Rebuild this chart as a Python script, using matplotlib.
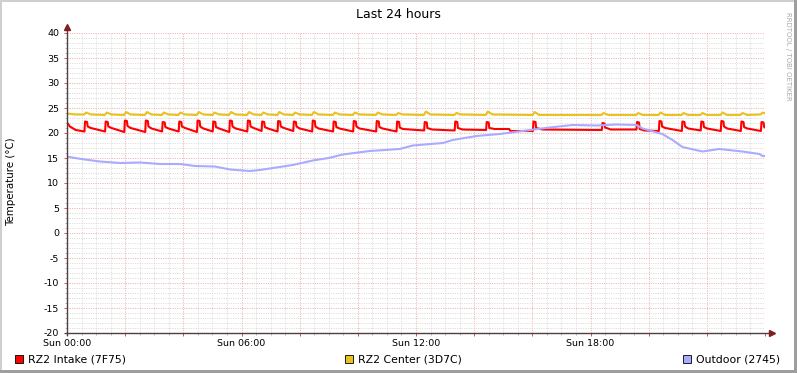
# RRDtool-style "Last 24 hours" temperature graph
import matplotlib
matplotlib.use('Agg')
import matplotlib.pyplot as plt
from matplotlib.patches import Rectangle

# ---- data (hours since Sun 00:00, deg C) ----
red_hours = [
    0.00, 0.10, 0.30, 0.60,
    0.62, 0.69, 0.71, 0.82, 1.31,
    1.33, 1.40, 1.42, 1.53, 1.97,
    1.99, 2.06, 2.08, 2.19, 2.69,
    2.71, 2.78, 2.80, 2.91, 3.27,
    3.29, 3.36, 3.38, 3.49, 3.84,
    3.86, 3.93, 3.95, 4.06, 4.47,
    4.49, 4.56, 4.58, 4.69, 5.01,
    5.03, 5.10, 5.12, 5.23, 5.58,
    5.60, 5.67, 5.69, 5.80, 6.20,
    6.22, 6.29, 6.31, 6.42, 6.69,
    6.71, 6.78, 6.80, 6.91, 7.24,
    7.26, 7.33, 7.35, 7.46, 7.78,
    7.80, 7.87, 7.89, 8.00, 8.43,
    8.45, 8.52, 8.54, 8.65, 9.15,
    9.17, 9.24, 9.26, 9.37, 9.84,
    9.86, 9.93, 9.95, 10.06, 10.63,
    10.65, 10.72, 10.74, 10.85, 11.33,
    11.35, 11.42, 11.44, 11.55, 12.28,
    12.30, 12.37, 12.39, 12.55, 13.33,
    13.35, 13.42, 13.44, 13.60, 14.41,
    14.43, 14.50, 14.52, 14.70, 15.20, 15.25, 16.02,
    16.04, 16.11, 16.13, 16.35, 18.39,
    18.41, 18.48, 18.50, 18.70, 19.58,
    19.60, 19.67, 19.69, 19.85, 20.35,
    20.37, 20.44, 20.46, 20.57, 21.14,
    21.16, 21.23, 21.25, 21.36, 21.79,
    21.81, 21.88, 21.90, 22.01, 22.48,
    22.50, 22.57, 22.59, 22.70, 23.17,
    23.19, 23.26, 23.28, 23.39, 23.86,
    23.88, 23.95, 23.97, 24.00]
red_temp = [
    22.1, 21.3, 20.6, 20.3,
    22.3, 22.2, 21.3, 21.0, 20.3,
    22.3, 22.2, 21.3, 21.0, 20.2,
    22.5, 22.4, 21.4, 21.0, 20.2,
    22.5, 22.4, 21.3, 20.9, 20.3,
    22.2, 22.1, 21.2, 20.9, 20.3,
    22.3, 22.2, 21.3, 21.0, 20.2,
    22.5, 22.4, 21.3, 20.9, 20.3,
    22.3, 22.2, 21.2, 20.9, 20.2,
    22.5, 22.4, 21.3, 20.9, 20.3,
    22.5, 22.4, 21.3, 21.0, 20.4,
    22.3, 22.2, 21.2, 20.9, 20.3,
    22.4, 22.3, 21.3, 21.0, 20.4,
    22.3, 22.2, 21.3, 20.9, 20.3,
    22.5, 22.4, 21.3, 20.9, 20.3,
    22.3, 22.2, 21.2, 20.9, 20.3,
    22.4, 22.3, 21.3, 20.9, 20.3,
    22.4, 22.3, 21.2, 20.9, 20.3,
    22.3, 22.2, 21.1, 20.8, 20.5,
    22.2, 22.1, 21.0, 20.7, 20.5,
    22.3, 22.2, 21.0, 20.7, 20.6,
    22.2, 22.1, 21.0, 20.8, 20.8, 20.4, 20.4,
    22.3, 22.2, 21.0, 20.7, 20.6,
    22.0, 21.9, 21.1, 20.7, 20.7,
    22.2, 22.1, 20.8, 20.5, 20.4,
    22.4, 22.3, 21.3, 21.0, 20.4,
    22.3, 22.2, 21.3, 20.9, 20.5,
    22.3, 22.2, 21.2, 20.9, 20.4,
    22.4, 22.3, 21.3, 20.9, 20.4,
    22.3, 22.2, 21.2, 20.9, 20.4,
    22.2, 22.1, 21.2, 21.1]

yellow_hours = [
    0.00, 0.30, 0.59, 0.66, 0.82, 1.30, 1.37, 1.53, 1.96, 2.03, 2.19,
    2.68, 2.75, 2.91, 3.26, 3.33, 3.49, 3.83, 3.90, 4.06, 4.46, 4.53, 4.69,
    5.00, 5.07, 5.23, 5.57, 5.64, 5.80, 6.19, 6.26, 6.42, 6.68, 6.75, 6.91,
    7.23, 7.30, 7.46, 7.77, 7.84, 8.00, 8.42, 8.49, 8.65, 9.14, 9.21, 9.37,
    9.83, 9.90, 10.06, 10.62, 10.69, 10.85, 11.32, 11.39, 11.55,
    12.27, 12.34, 12.50, 13.32, 13.39, 13.55, 14.40, 14.47, 14.63,
    16.01, 16.08, 16.24, 18.38, 18.45, 18.61, 19.57, 19.64, 19.80,
    20.34, 20.41, 20.57, 21.13, 21.20, 21.36, 21.78, 21.85, 22.01,
    22.47, 22.54, 22.70, 23.16, 23.23, 23.39, 23.85, 23.92, 24.00]
yellow_temp = [
    23.9, 23.7, 23.7, 24.1, 23.7, 23.6, 24.1, 23.7, 23.6, 24.2, 23.7,
    23.6, 24.2, 23.7, 23.6, 24.1, 23.7, 23.6, 24.1, 23.7, 23.6, 24.2, 23.7,
    23.6, 24.1, 23.7, 23.6, 24.2, 23.7, 23.6, 24.2, 23.7, 23.6, 24.1, 23.7,
    23.6, 24.2, 23.7, 23.6, 24.1, 23.7, 23.6, 24.2, 23.7, 23.6, 24.1, 23.7,
    23.6, 24.1, 23.7, 23.6, 24.1, 23.7, 23.6, 24.0, 23.7,
    23.6, 24.3, 23.7, 23.6, 24.0, 23.7, 23.6, 24.3, 23.7,
    23.6, 24.2, 23.6, 23.6, 24.0, 23.6, 23.6, 24.0, 23.6,
    23.6, 24.1, 23.6, 23.6, 24.0, 23.6, 23.6, 24.0, 23.6,
    23.6, 24.1, 23.6, 23.6, 24.0, 23.6, 23.7, 24.1, 23.9]

blue_hours = [
    0.00, 0.27, 0.62, 1.13, 1.82, 2.51, 3.19, 3.88, 4.40, 5.08, 5.60,
    6.29, 6.63, 7.20, 7.76, 8.45, 9.00, 9.48, 10.41, 11.44, 11.89,
    12.92, 13.26, 14.08, 14.88, 15.66, 16.59, 17.38, 18.21, 18.89,
    19.58, 19.79, 20.47, 20.82, 21.16, 21.85, 22.43, 23.22, 23.81,
    23.91, 24.00]
blue_temp = [
    15.3, 15.0, 14.7, 14.3, 14.0, 14.1, 13.8, 13.8, 13.4, 13.3, 12.7,
    12.4, 12.6, 13.1, 13.6, 14.5, 15.0, 15.7, 16.4, 16.8, 17.5,
    18.0, 18.6, 19.4, 19.8, 20.4, 21.1, 21.6, 21.5, 21.7,
    21.6, 20.9, 19.8, 18.6, 17.2, 16.3, 16.8, 16.3, 15.8,
    15.4, 15.4]

series_labels = ['RZ2 Intake (7F75)', 'RZ2 Center (3D7C)', 'Outdoor (2745)']
series_colors = ['#ff0000', '#eac11f', '#aaaaff']
x_tick_hours = [0, 6, 12, 18]
x_tick_labels = ['Sun 00:00', 'Sun 06:00', 'Sun 12:00', 'Sun 18:00']

W, H = 797, 373
fig = plt.figure(figsize=(W / 100, H / 100), dpi=100)
fig.patch.set_facecolor('white')

# plot area in pixels: x 67..765, y 33..333
ax = fig.add_axes([67 / W, 1 - 333 / H, 698 / W, 300 / H])
ax.set_facecolor('white')
ax.set_xlim(0, 24)
ax.set_ylim(-20, 40)

ax.plot(red_hours, red_temp, color=series_colors[0], lw=1.5, zorder=3)
ax.plot(yellow_hours, yellow_temp, color=series_colors[1], lw=1.5, zorder=3)
ax.plot(blue_hours, blue_temp, color=series_colors[2], lw=1.5, zorder=3)

# grid
ax.set_xticks(range(0, 25, 2))
ax.set_xticks([h / 2 for h in range(0, 49)], minor=True)
ax.set_xticklabels([x_tick_labels[x_tick_hours.index(h)] if h in x_tick_hours else ''
                    for h in range(0, 25, 2)], fontsize=6.8)
ax.set_yticks(range(-20, 41, 5))
ax.set_yticks(range(-20, 41), minor=True)
ax.set_yticklabels([str(v) for v in range(-20, 41, 5)], fontsize=6.8)
ax.grid(which='minor', color='#d4d4d4', lw=0.6, ls=(0, (1.2, 1.6)))
ax.grid(which='major', color='#e6a0a0', lw=0.6, ls=(0, (1.2, 1.6)))
ax.set_axisbelow(True)
ax.tick_params(which='major', length=2.5, width=0.7, color='#de5050', pad=2)
ax.tick_params(which='minor', length=1.5, width=0.6, color='#aaaaaa')
ax.tick_params(axis='y', pad=3)

for s in ax.spines.values():
    s.set_visible(False)

# axes with arrows
AXC = '#4b3f3f'
ax.plot([0, 0], [-0.005, 1.018], transform=ax.transAxes, color=AXC, lw=1.0,
        clip_on=False, zorder=4)
ax.plot([-0.003, 1.008], [0, 0], transform=ax.transAxes, color=AXC, lw=1.0,
        clip_on=False, zorder=4)
ax.plot(0, 1.02, marker='^', ms=4, color='#7f1f1f', transform=ax.transAxes,
        clip_on=False, zorder=5)
ax.plot(1.01, 0, marker='>', ms=4, color='#7f1f1f', transform=ax.transAxes,
        clip_on=False, zorder=5)

# texts
fig.text(398 / W, 1 - 14 / H, 'Last 24 hours', fontsize=9, ha='center', va='center')
fig.text(11 / W, 1 - 182 / H, 'Temperature (°C)', fontsize=7.4, rotation=90,
         ha='center', va='center')
fig.text(788 / W, 1 - 56 / H, 'RRDTOOL / TOBI OETIKER', fontsize=5, rotation=270,
         color='#aaaaaa', ha='center', va='center')

def px_rect(x, y, w, h, **kw):
    fig.add_artist(Rectangle((x / W, 1 - (y + h) / H), w / W, h / H,
                             transform=fig.transFigure, **kw))

# legend
for (bx, tx), lab, col in zip([(15, 28), (345, 358), (683, 696)],
                              series_labels, series_colors):
    px_rect(bx, 355, 8, 8, facecolor=col, edgecolor='black', lw=0.6)
    fig.text(tx / W, 1 - 359 / H, lab, fontsize=7.8, ha='left', va='center')

# 3d-ish frame
px_rect(0, 0, W, 2, facecolor='#cfcfcf', lw=0)
px_rect(0, 0, 2, H, facecolor='#cfcfcf', lw=0)
px_rect(0, H - 3, W, 3, facecolor='#9e9e9e', lw=0)
px_rect(W - 3, 0, 3, H, facecolor='#9e9e9e', lw=0)

fig.savefig('out.png', dpi=100, facecolor='white')
